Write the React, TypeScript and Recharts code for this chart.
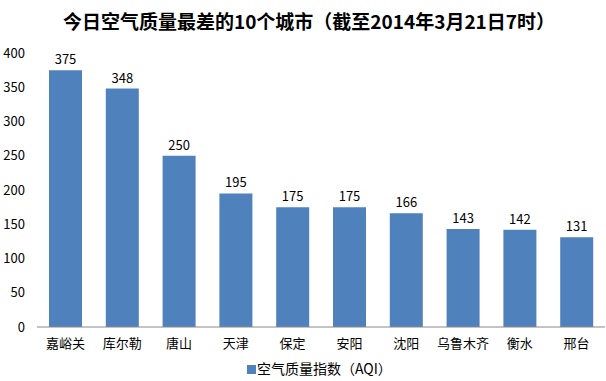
import React from 'react';
import { BarChart, Bar, XAxis, YAxis, LabelList, Legend } from 'recharts';

const cities = ['嘉峪关', '库尔勒', '唐山', '天津', '保定', '安阳', '沈阳', '乌鲁木齐', '衡水', '邢台'];
const aqiValues = [375, 348, 250, 195, 175, 175, 166, 143, 142, 131];
const yTicks = [0, 50, 100, 150, 200, 250, 300, 350, 400];
const title = '今日空气质量最差的10个城市（截至2014年3月21日7时）';
const seriesName = '空气质量指数（AQI）';

const data = cities.map((c, i) => ({ city: c, aqi: aqiValues[i] }));

const FONT = '"Noto Sans CJK SC", "Noto Sans", sans-serif';
const BLUE = '#4F81BD';

const LegendContent = () => (
  <div style={{ display: 'flex', alignItems: 'center', fontFamily: FONT, fontSize: 14, color: '#000', lineHeight: '18px' }}>
    <span style={{ display: 'inline-block', width: 9, height: 9, background: BLUE, marginRight: 1, marginTop: 3 }} />
    <span>{seriesName}</span>
  </div>
);

export default function App() {
  return (
    <div style={{ position: 'absolute', left: 0, top: 0, width: 606, height: 381, background: '#fff', fontFamily: FONT }}>
      <div
        style={{
          position: 'absolute',
          left: 6,
          top: 8,
          width: 606,
          textAlign: 'center',
          fontSize: 19,
          fontWeight: 'bold',
          lineHeight: '26px',
          color: '#000',
          fontFamily: FONT,
          whiteSpace: 'nowrap',
        }}
      >
        {title}
      </div>
      <BarChart
        width={606}
        height={381}
        data={data}
        margin={{ top: 53, right: 1, bottom: 4, left: 0 }}
        barSize={33}
      >
        <YAxis
          domain={[0, 400]}
          ticks={yTicks}
          width={37}
          axisLine={false}
          tickLine={false}
          tickSize={0}
          tickMargin={12}
          interval={0}
          tick={{ fill: '#000', fontSize: 13, fontFamily: FONT }}
        />
        <XAxis
          dataKey="city"
          height={30}
          axisLine={{ stroke: '#888888', strokeWidth: 1 }}
          tickLine={false}
          tickSize={0}
          tickMargin={12}
          interval={0}
          tick={{ fill: '#000', fontSize: 13, fontFamily: FONT }}
        />
        <Legend
          content={<LegendContent />}
          wrapperStyle={{ position: 'absolute', left: 247, top: 359, width: 'auto', height: 20 }}
        />
        <Bar dataKey="aqi" name={seriesName} fill={BLUE} isAnimationActive={false}>
          <LabelList dataKey="aqi" position="top" offset={6} style={{ fill: '#000', fontSize: 13, fontFamily: FONT }} />
        </Bar>
      </BarChart>
    </div>
  );
}
